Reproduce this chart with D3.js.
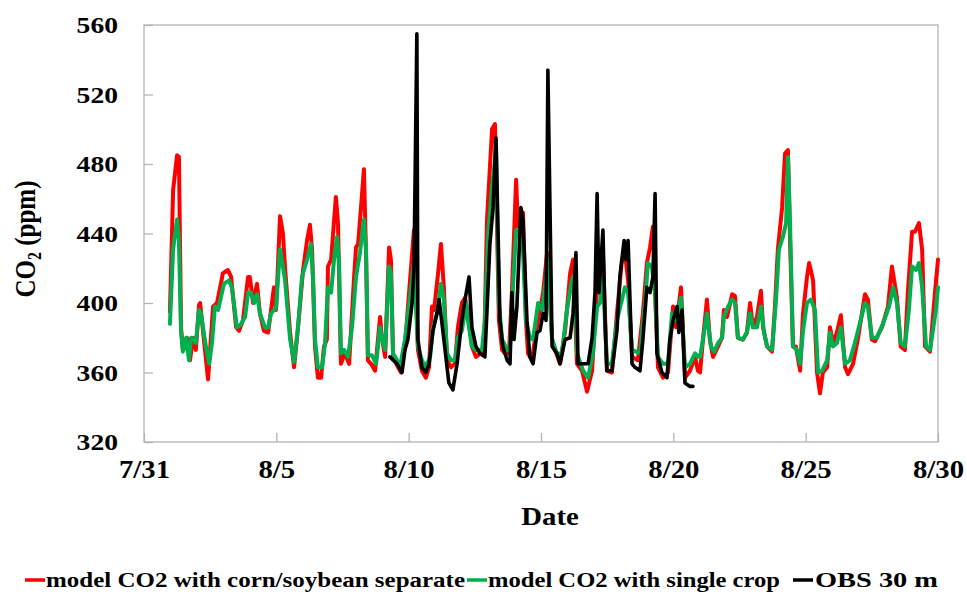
<!DOCTYPE html>
<html><head><meta charset="utf-8">
<script src="https://cdn.jsdelivr.net/npm/d3@7/dist/d3.min.js"></script>
<style>body{margin:0;background:#fff;}svg{display:block;}</style>
</head><body>
<script>
// ---- data (day offset from 7/31, CO2 ppm) ----
const xTickDays = [0,5,10,15,20,25,30];
const xTickLabels = ["7/31","8/5","8/10","8/15","8/20","8/25","8/30"];
const yTicks = [320,360,400,440,480,520,560];
const seriesNames = ["model CO2 with corn/soybean separate","model CO2 with single crop","OBS 30 m"];

const redSeries = [[0.98,395],[1.10,465],[1.25,485],[1.32,484],[1.40,386],[1.47,373],[1.62,380],[1.74,367],[1.85,380],[1.96,373],[2.08,399],[2.12,400],[2.42,356],[2.61,398],[2.76,400],[2.98,417],[3.17,419],[3.29,415],[3.48,386],[3.59,384],[3.74,390],[3.93,415],[4.00,415],[4.12,400],[4.27,411],[4.38,394],[4.53,384],[4.69,383],[4.80,396],[4.91,409],[4.99,396],[5.14,450],[5.25,440],[5.33,420],[5.52,383],[5.67,363],[5.82,386],[6.01,419],[6.16,436],[6.27,445],[6.35,431],[6.46,375],[6.57,357],[6.69,357],[6.80,375],[6.91,379],[6.95,421],[7.07,425],[7.25,461],[7.33,446],[7.44,365],[7.59,371],[7.75,365],[7.93,413],[8.01,432],[8.09,434],[8.20,455],[8.31,477],[8.39,427],[8.46,367],[8.58,365],[8.73,361],[8.92,392],[8.99,380],[9.11,369],[9.26,432],[9.33,425],[9.41,369],[9.60,363],[9.71,360],[9.86,375],[10.05,413],[10.20,442],[10.35,373],[10.50,361],[10.65,357],[10.77,363],[10.88,398],[10.96,396],[11.11,417],[11.22,434],[11.33,409],[11.45,367],[11.60,363],[11.75,365],[11.86,386],[12.01,400],[12.13,403],[12.24,394],[12.39,375],[12.54,369],[12.73,371],[12.85,373],[12.96,448],[13.07,478],[13.15,500],[13.26,503],[13.41,390],[13.53,373],[13.64,371],[13.79,371],[13.90,406],[14.06,471],[14.13,444],[14.32,452],[14.43,390],[14.51,371],[14.66,367],[14.77,379],[14.89,390],[15.08,406],[15.23,429],[15.42,379],[15.53,373],[15.72,365],[15.91,384],[16.10,417],[16.21,425],[16.36,365],[16.55,361],[16.74,349],[16.93,361],[17.04,390],[17.15,417],[17.23,406],[17.34,429],[17.49,361],[17.68,360],[17.87,394],[18.06,425],[18.17,429],[18.29,413],[18.44,369],[18.66,367],[18.85,394],[19.00,423],[19.12,432],[19.23,444],[19.31,406],[19.42,363],[19.61,357],[19.80,360],[19.99,398],[20.10,386],[20.29,409],[20.44,357],[20.63,361],[20.82,369],[20.93,361],[21.01,360],[21.12,379],[21.27,402],[21.38,379],[21.50,369],[21.69,375],[21.84,380],[21.91,396],[22.03,392],[22.22,405],[22.33,404],[22.44,380],[22.63,379],[22.78,383],[22.90,400],[23.01,386],[23.16,392],[23.31,407],[23.39,386],[23.54,375],[23.73,372],[23.84,398],[23.95,431],[24.11,455],[24.22,486],[24.33,488],[24.41,436],[24.52,375],[24.63,375],[24.79,361],[24.90,394],[25.05,415],[25.13,423],[25.28,413],[25.43,360],[25.54,348],[25.65,360],[25.81,363],[25.92,386],[26.03,377],[26.18,383],[26.33,393],[26.49,363],[26.60,359],[26.79,365],[26.98,380],[27.24,405],[27.35,402],[27.50,379],[27.62,378],[27.88,386],[28.11,398],[28.26,421],[28.45,403],[28.59,375],[28.75,373],[28.86,406],[29.02,441],[29.13,441],[29.28,446],[29.40,431],[29.51,375],[29.70,372],[29.89,407],[30.0,425]];

const greenSeries = [[0.98,388],[1.10,431],[1.25,448],[1.32,436],[1.40,383],[1.47,372],[1.59,380],[1.70,367],[1.78,380],[1.89,379],[1.96,377],[2.08,396],[2.15,394],[2.34,375],[2.46,365],[2.57,377],[2.68,398],[2.80,396],[3.02,411],[3.21,413],[3.32,409],[3.51,386],[3.63,387],[3.82,392],[3.93,406],[4.04,406],[4.16,400],[4.27,405],[4.38,394],[4.57,386],[4.69,386],[4.80,394],[4.91,396],[4.99,397],[5.14,431],[5.25,421],[5.33,413],[5.52,379],[5.67,366],[5.82,386],[5.97,415],[6.16,425],[6.31,434],[6.39,413],[6.46,379],[6.57,363],[6.73,363],[6.84,377],[6.95,409],[7.07,406],[7.18,425],[7.29,438],[7.37,423],[7.44,371],[7.56,373],[7.71,369],[7.86,386],[8.01,415],[8.16,429],[8.31,448],[8.39,431],[8.46,370],[8.61,370],[8.77,365],[8.92,386],[8.99,380],[9.11,373],[9.26,421],[9.33,417],[9.41,371],[9.56,367],[9.67,363],[9.86,379],[10.05,403],[10.20,423],[10.35,375],[10.50,367],[10.65,363],[10.81,369],[10.92,386],[11.07,394],[11.22,411],[11.33,402],[11.45,371],[11.60,367],[11.75,367],[11.86,380],[12.01,384],[12.17,400],[12.24,390],[12.39,375],[12.54,373],[12.77,373],[12.88,390],[13.00,438],[13.15,467],[13.26,482],[13.30,490],[13.41,400],[13.53,379],[13.72,373],[13.83,373],[13.94,409],[14.06,442],[14.17,440],[14.32,429],[14.43,390],[14.58,380],[14.70,379],[14.89,400],[15.04,396],[15.15,409],[15.26,425],[15.42,379],[15.60,371],[15.79,371],[15.98,396],[16.17,413],[16.28,417],[16.36,371],[16.59,361],[16.78,357],[16.96,371],[17.12,398],[17.23,400],[17.34,415],[17.49,365],[17.68,365],[17.87,390],[18.06,402],[18.17,409],[18.29,406],[18.44,373],[18.74,371],[18.93,400],[19.04,423],[19.19,421],[19.31,406],[19.42,369],[19.61,365],[19.80,365],[19.95,394],[20.10,390],[20.29,403],[20.44,363],[20.63,365],[20.82,371],[20.93,369],[21.01,369],[21.12,379],[21.27,394],[21.42,375],[21.54,372],[21.69,377],[21.84,380],[21.91,392],[22.07,398],[22.22,402],[22.33,400],[22.44,380],[22.63,379],[22.78,383],[22.90,394],[23.01,386],[23.16,386],[23.31,398],[23.43,383],[23.54,375],[23.73,373],[23.88,402],[23.99,431],[24.14,438],[24.26,446],[24.33,484],[24.41,446],[24.52,375],[24.67,373],[24.79,365],[24.90,384],[25.05,400],[25.20,402],[25.35,396],[25.47,360],[25.62,361],[25.81,367],[25.92,383],[26.03,375],[26.18,377],[26.33,386],[26.49,365],[26.67,367],[26.86,377],[27.24,400],[27.35,398],[27.50,380],[27.69,380],[27.92,388],[28.15,398],[28.30,409],[28.45,400],[28.59,377],[28.75,375],[28.90,396],[29.02,421],[29.17,419],[29.28,423],[29.40,409],[29.55,375],[29.70,373],[29.92,396],[30.0,409]];

const obsSeries = [[9.29,369],[9.56,365],[9.75,360],[9.86,373],[9.97,379],[10.13,400],[10.20,419],[10.31,555],[10.35,379],[10.50,363],[10.65,360],[10.77,365],[10.92,384],[11.07,394],[11.15,402],[11.30,383],[11.45,363],[11.52,354],[11.67,350],[11.83,365],[12.01,390],[12.13,402],[12.28,415],[12.39,386],[12.54,375],[12.69,371],[12.88,369],[12.96,396],[13.07,434],[13.19,455],[13.30,495],[13.45,390],[13.56,375],[13.72,367],[13.83,365],[13.90,406],[13.98,379],[14.09,398],[14.24,455],[14.32,448],[14.47,390],[14.58,369],[14.70,365],[14.85,383],[14.96,384],[15.08,394],[15.19,390],[15.26,534],[15.42,375],[15.60,371],[15.72,365],[15.91,379],[16.10,380],[16.21,394],[16.32,429],[16.40,365],[16.59,365],[16.78,365],[16.93,380],[17.04,406],[17.12,463],[17.19,406],[17.34,442],[17.42,390],[17.49,361],[17.68,361],[17.87,384],[17.98,415],[18.14,436],[18.21,425],[18.29,436],[18.44,365],[18.55,363],[18.74,361],[18.85,379],[19.00,409],[19.12,406],[19.23,415],[19.31,463],[19.38,371],[19.57,360],[19.76,357],[19.87,379],[19.99,390],[20.14,398],[20.21,383],[20.33,396],[20.44,354],[20.63,352],[20.74,352]];

const colors = ["#ff0000","#00b050","#000000"];

// ---- drawing ----
const W = 967, H = 597;
const L = 144, R = 938, T = 25, B = 442;
const SX = 1.15; // horizontal stretch of text in the original
const grey = "#b4b4b4";
const font = "'Liberation Serif','Times New Roman',serif";

const svg = d3.select("body").append("svg").attr("width", W).attr("height", H);
const x = d3.scaleLinear().domain([0, 30]).range([L, R]);
const y = d3.scaleLinear().domain([320, 560]).range([B, T]);

// frame
svg.append("rect").attr("x", L).attr("y", T).attr("width", R - L).attr("height", B - T)
  .attr("fill", "none").attr("stroke", grey).attr("stroke-width", 1.3);

// y axis
const gy = svg.append("g").attr("transform", `translate(${L},0)`)
  .call(d3.axisLeft(y).tickValues(yTicks).tickSizeInner(-9).tickSizeOuter(0));
gy.select(".domain").remove();
gy.selectAll(".tick line").attr("stroke", grey).attr("stroke-width", 1.3);
gy.selectAll(".tick text").attr("x", -26 / SX).attr("transform", `scale(${SX},1)`)
  .attr("fill", "#000").style("font-family", font).style("font-weight", "bold").style("font-size", "24px");

// x axis
const gx = svg.append("g").attr("transform", `translate(0,${B})`)
  .call(d3.axisBottom(x).tickValues(xTickDays).tickFormat((d, i) => xTickLabels[i]).tickSizeInner(-9).tickSizeOuter(0));
gx.select(".domain").remove();
gx.selectAll(".tick line").attr("stroke", grey).attr("stroke-width", 1.3);
gx.selectAll(".tick text").attr("y", 18).attr("transform", `scale(${SX},1)`)
  .attr("fill", "#000").style("font-family", font).style("font-weight", "bold").style("font-size", "25px");

// axis titles
svg.append("text").attr("transform", `translate(550,525) scale(${SX},1)`).attr("text-anchor", "middle")
  .style("font-family", font).style("font-weight", "bold").style("font-size", "25px").text("Date");

const yt = svg.append("text").attr("transform", `translate(35,239) scale(${SX},1) rotate(-90)`)
  .attr("text-anchor", "middle").style("font-family", font).style("font-weight", "bold").style("font-size", "25px");
yt.append("tspan").text("CO");
yt.append("tspan").style("font-size", "16px").attr("dy", 5).text("2");
yt.append("tspan").attr("dy", -5).text(" (ppm)");

// lines
const line = d3.line().x(d => x(d[0])).y(d => y(d[1]));
[redSeries, greenSeries, obsSeries].forEach((s, i) => {
  svg.append("path").datum(s).attr("d", line).attr("fill", "none")
    .attr("stroke", colors[i]).attr("stroke-width", i === 2 ? 3.6 : 4)
    .attr("stroke-linejoin", "round").attr("stroke-linecap", "round");
});

// legend
const legX = [25, 467, 793];
const legTextX = [46, 488, 815];
const legTextW = [419, 292, 123];
const legY = 580;
seriesNames.forEach((n, i) => {
  svg.append("line").attr("x1", legX[i]).attr("x2", legX[i] + 20).attr("y1", legY).attr("y2", legY)
    .attr("stroke", colors[i]).attr("stroke-width", 3.5);
  svg.append("text").attr("x", legTextX[i]).attr("y", legY + 7)
    .attr("textLength", legTextW[i]).attr("lengthAdjust", "spacingAndGlyphs")
    .style("font-family", font).style("font-weight", "bold").style("font-size", "21px").text(n);
});
</script>
</body></html>
